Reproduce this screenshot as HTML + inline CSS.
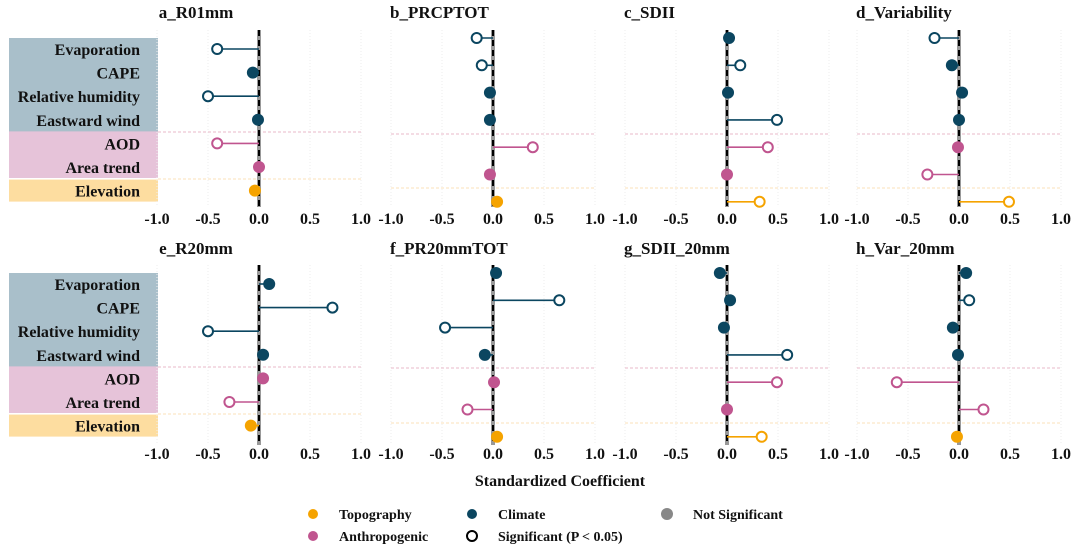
<!DOCTYPE html>
<html><head><meta charset="utf-8">
<style>
body{margin:0;background:#fff;}
svg{display:block;font-family:"Liberation Serif",serif;font-weight:bold;}
</style></head>
<body>
<svg id="chart" width="1080" height="558"></svg>
<script>
const variables = ["Evaporation","CAPE","Relative humidity","Eastward wind","AOD","Area trend","Elevation"];
const groups = ["climate","climate","climate","climate","anthro","anthro","topo"];
const panelTitles = ["a_R01mm","b_PRCPTOT","c_SDII","d_Variability","e_R20mm","f_PR20mmTOT","g_SDII_20mm","h_Var_20mm"];
const valsA = [-0.41,-0.06,-0.50,-0.01,-0.41,0.00,-0.04];
const sigA  = [1,0,1,0,1,0,0];
const valsB = [-0.16,-0.11,-0.03,-0.03,0.39,-0.03,0.04];
const sigB  = [1,1,0,0,1,0,0];
const valsC = [0.02,0.13,0.01,0.49,0.40,0.00,0.32];
const sigC  = [0,1,0,1,1,0,1];
const valsD = [-0.24,-0.07,0.03,0.00,-0.01,-0.31,0.49];
const sigD  = [1,0,0,0,0,1,1];
const valsE = [0.10,0.72,-0.50,0.04,0.04,-0.29,-0.08];
const sigE  = [0,1,1,0,0,1,0];
const valsF = [0.03,0.65,-0.47,-0.08,0.01,-0.25,0.04];
const sigF  = [0,1,1,0,0,1,0];
const valsG = [-0.07,0.03,-0.03,0.59,0.49,0.00,0.34];
const sigG  = [0,0,0,1,1,0,1];
const valsH = [0.07,0.10,-0.06,-0.01,-0.61,0.24,-0.02];
const sigH  = [0,1,0,0,1,1,0];
const tickVals = [-1.0,-0.5,0.0,0.5,1.0];
const tickLabels = ["-1.0","-0.5","0.0","0.5","1.0"];

const colors = {climate:"#0b4660",anthro:"#c0558f",topo:"#f5a300"};
const NS="http://www.w3.org/2000/svg";
const svg=document.getElementById("chart");
function mk(tag,attrs,parent){const e=document.createElementNS(NS,tag);for(const k in attrs)e.setAttribute(k,attrs[k]);(parent||svg).appendChild(e);return e;}

const allVals=[valsA,valsB,valsC,valsD,valsE,valsF,valsG,valsH];
const allSig=[sigA,sigB,sigC,sigD,sigE,sigF,sigG,sigH];
const zeroX=[259,493,727,959];
const scale=102;

for(let p=0;p<8;p++){
  const col=p%4,row=Math.floor(p/4);
  const oy=row?236:0;
  const labeled=col===0;
  const x=v=>zeroX[col]+v*scale;
  let y0,dy,sep1,sep2,top,bot;
  if(labeled){y0=(row?284:49);dy=23.6;sep1=(row?367:132);sep2=(row?414:179);}
  else{y0=(row?273:38);dy=27.3;sep1=(row?368:134);sep2=(row?423:188);}
  top=row?265:30;bot=row?445:207;
  const y=i=>y0+i*dy;
  const g=mk("g",{});
  
  
  const ty=row?254:18;
  const tx=labeled?mk("text",{x:196,y:ty,"text-anchor":"middle","font-size":17,fill:"#111"},g)
                  :mk("text",{x:zeroX[col]-103,y:ty,"font-size":17,fill:"#111"},g);
  tx.textContent=panelTitles[p];
  
  
  if(labeled){
    const bx=[[y(0)-11,y(3)+12,"#a9bfca"],[y(4)-12,y(5)+11,"#e6c3d9"],[y(6)-11,y(6)+11,"#fddda0"]];
    bx.forEach((b,i)=>{const r=mk("rect",{x:9,y:b[0],width:149,height:b[1]-b[0],fill:b[2]},g);
      
      });
    variables.forEach((v,i)=>{const t=mk("text",{x:140,y:y(i)+6,"text-anchor":"end","font-size":16,fill:"#111"},g);t.textContent=v;
      
      });
  }
  tickVals.forEach(v=>{if(v!==0){const l=mk("line",{x1:x(v),x2:x(v),y1:top,y2:bot,stroke:"#eee","stroke-dasharray":"1,2"},g);
    
    }});
  [[sep1,"#e8b8c8"],[sep2,"#fbe0b8"]].forEach(s=>{const l=mk("line",{x1:labeled?158:x(-1),x2:x(1),y1:s[0],y2:s[0],stroke:s[1],"stroke-width":1,"stroke-dasharray":"3,2"},g);
    
    });
  mk("line",{x1:x(0),x2:x(0),y1:top,y2:bot,stroke:"#999","stroke-width":4},g);
  const zl=mk("line",{x1:x(0),x2:x(0),y1:top,y2:bot,stroke:"#000","stroke-width":2,"stroke-dasharray":"6,4"},g);
  
  
  const vals=allVals[p],sig=allSig[p];
  vals.forEach((v,i)=>{
    const c=colors[groups[i]];
    const ln=mk("line",{x1:x(0),x2:x(v),y1:y(i),y2:y(i),stroke:c,"stroke-width":1.6},g);
    
    
    const pt=sig[i]?mk("circle",{cx:x(v),cy:y(i),r:5,fill:"#fff",stroke:c,"stroke-width":2},g)
                   :mk("circle",{cx:x(v),cy:y(i),r:6,fill:c},g);
    
    
  });
  const tky=row?459:224;
  tickVals.forEach((v,i)=>{const t=mk("text",{x:x(v),y:tky,"text-anchor":"middle","font-size":16,fill:"#111"},g);t.textContent=tickLabels[i];
    
    });
}
const at=mk("text",{x:560,y:486,"text-anchor":"middle","font-size":16,fill:"#111"});
at.textContent="Standardized Coefficient";


const legend=[
 [313,514,"Topography","dot","#f5a300"],[472,514,"Climate","dot","#0b4660"],[667,514,"Not Significant","dot","#888"],
 [313,536,"Anthropogenic","dot","#c0558f"],[472,536,"Significant (P < 0.05)","open","#000"]];
legend.forEach(l=>{
  const g=mk("g",{});
  
  
  if(l[3]==="dot")mk("circle",{cx:l[0],cy:l[1],r:l[2]==="Not Significant"?6:5,fill:l[4]},g);
  else mk("circle",{cx:l[0],cy:l[1],r:5,fill:"#fff",stroke:"#000","stroke-width":2},g);
  const t=mk("text",{x:l[0]+26,y:l[1]+5,"font-size":14,fill:"#111"},g);t.textContent=l[2];
});
</script>
</body></html>
